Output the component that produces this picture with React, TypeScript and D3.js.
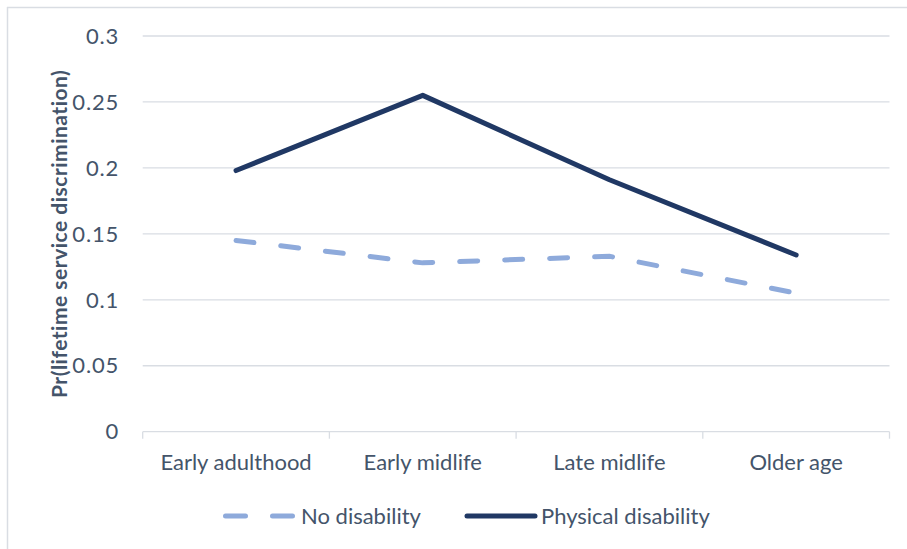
import React from "react";
import * as d3 from "d3";

const categories = ["Early adulthood", "Early midlife", "Late midlife", "Older age"];
const noDisability = [0.145, 0.128, 0.133, 0.105];
const physicalDisability = [0.198, 0.255, 0.191, 0.134];
const yTicks = [0, 0.05, 0.1, 0.15, 0.2, 0.25, 0.3];
const seriesNames = ["No disability", "Physical disability"];

const W = 907;
const H = 549;
const left = 142.7;
const right = 889.5;
const top = 36;
const bottom = 431.7;
const textColor = "#44546a";
const gridColor = "#d9dde3";
const lightBlue = "#8eaadb";
const darkBlue = "#203864";
const font = "Lato, 'Open Sans', sans-serif";

export default function App() {
  const x = d3.scaleBand<string>().domain(categories).range([left, right]);
  const y = d3.scaleLinear().domain([0, 0.3]).range([bottom, top]);
  const cx = (c: string) => (x(c) as number) + x.bandwidth() / 2;
  const line = d3
    .line<number>()
    .x((_, i) => cx(categories[i]))
    .y((d) => y(d));
  const boundaries = [...categories.map((c) => x(c) as number), right];

  return (
    <svg width={W} height={H} style={{ position: "absolute", left: 0, top: 0 }} fontFamily={font}>
      <rect x={0} y={0} width={W} height={H} fill="#fff" />
      <line x1={7} y1={7.5} x2={W} y2={7.5} stroke={gridColor} strokeWidth={1.5} />
      <line x1={7.5} y1={7} x2={7.5} y2={H} stroke={gridColor} strokeWidth={1.5} />
      {yTicks.map((t) => (
        <g key={t}>
          {t !== 0 && (
            <line x1={left} x2={right} y1={y(t)} y2={y(t)} stroke={gridColor} strokeWidth={1.3} />
          )}
          <text
            x={119}
            y={y(t)}
            dy="0.35em"
            textAnchor="end"
            fontSize={22}
            letterSpacing={0.8}
            fill={textColor}
          >
            {String(t)}
          </text>
        </g>
      ))}
      <line x1={left} x2={right} y1={bottom} y2={bottom} stroke={gridColor} strokeWidth={1.3} />
      {boundaries.map((b, i) => (
        <line key={i} x1={b} x2={b} y1={bottom} y2={bottom + 7} stroke={gridColor} strokeWidth={1.3} />
      ))}
      {categories.map((c) => (
        <text key={c} x={cx(c)} y={470} textAnchor="middle" fontSize={22} fill={textColor}>
          {c}
        </text>
      ))}
      <text
        transform={`translate(67, ${(top + bottom) / 2}) rotate(-90)`}
        textAnchor="middle"
        fontSize={21}
        fontWeight="bold"
        letterSpacing={0.5}
        fill={textColor}
      >
        Pr(lifetime service discrimination)
      </text>
      <path
        d={line(noDisability) || ""}
        fill="none"
        stroke={lightBlue}
        strokeWidth={5}
        strokeLinecap="round"
        strokeDasharray="18 27"
      />
      <path
        d={line(physicalDisability) || ""}
        fill="none"
        stroke={darkBlue}
        strokeWidth={5}
        strokeLinecap="round"
        strokeLinejoin="round"
      />
      <g>
        <line x1={225.5} x2={292.5} y1={516} y2={516} stroke={lightBlue} strokeWidth={5} strokeLinecap="round" strokeDasharray="20 27" />
        <text x={301} y={516} dy="0.35em" fontSize={22} fill={textColor}>
          {seriesNames[0]}
        </text>
        <line x1={467} x2={535} y1={516} y2={516} stroke={darkBlue} strokeWidth={5} strokeLinecap="round" />
        <text x={541} y={516} dy="0.35em" fontSize={22} fill={textColor}>
          {seriesNames[1]}
        </text>
      </g>
    </svg>
  );
}
